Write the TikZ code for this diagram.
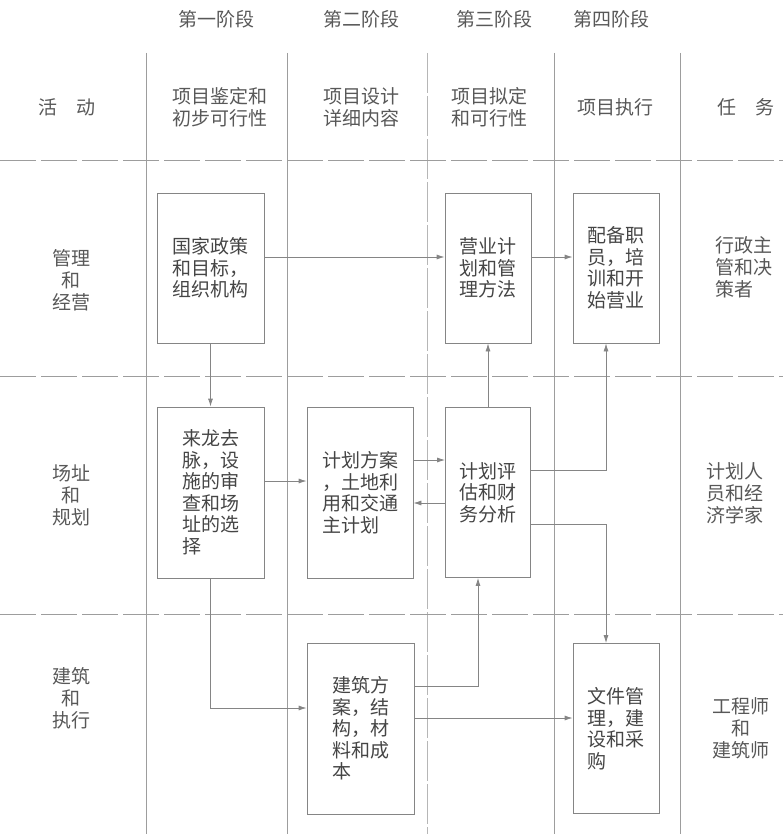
\documentclass[tikz,border=0pt]{standalone}
\usepackage{fontspec}
\setmainfont{Noto Sans CJK SC}
\usetikzlibrary{arrows.meta}

\definecolor{inkgray}{HTML}{454545}
\definecolor{rulegray}{HTML}{858585}

\tikzset{
  stagebox/.style={draw=rulegray, line width=0.8pt, inner sep=0pt, align=left,
    text=inkgray, font=\fontsize{19}{21.5}\selectfont},
  rowlabel/.style={align=center, text=inkgray!90, font=\fontsize{19}{22}\selectfont},
  flow/.style={->, draw=rulegray, line width=0.8pt},
  gridline/.style={draw=rulegray!80, line width=0.7pt},
}

\begin{document}
\begin{tikzpicture}[x=1pt, y=-1pt, >={Latex[length=8pt,width=5pt]}]
  \useasboundingbox (0,0) rectangle (783,834);

  % --- grid ---
  \foreach \gx in {146,287,554,680}
    \draw[gridline] (\gx,53) -- (\gx,834);
  \draw[gridline, draw=rulegray!60, dash pattern=on 40pt off 3pt] (427,53) -- (427,834);
  \foreach \gy in {160,376,614}
    \draw[gridline, dash pattern=on 36pt off 5pt] (0,\gy) -- (783,\gy);

  % --- phases and column heads ---
  \node[rowlabel] (ph1) at (216,19) {第一阶段};
  \node[rowlabel] (ph2) at (361,19) {第二阶段};
  \node[rowlabel] (ph3) at (494,19) {第三阶段};
  \node[rowlabel] (ph4) at (611,19) {第四阶段};
  \node[rowlabel] (act) at (67,107) {活\quad 动};
  \node[rowlabel] (hd1) at (220,107) {项目鉴定和\\初步可行性};
  \node[rowlabel] (hd2) at (361,107) {项目设计\\详细内容};
  \node[rowlabel] (hd3) at (489,107) {项目拟定\\和可行性};
  \node[rowlabel] (hd4) at (615,107) {项目执行};
  \node[rowlabel] (task) at (746,107) {任\quad 务};

  % --- row labels ---
  \node[rowlabel] (mgmt) at (71,280) {管理\\和\\经营};
  \node[rowlabel] (site) at (71,495) {场址\\和\\规划};
  \node[rowlabel] (build) at (71,698) {建筑\\和\\执行};
  \node[rowlabel, align=left] (admin) at (744,267) {行政主\\管和决\\策者};
  \node[rowlabel, align=left] (econ) at (735,493) {计划人\\员和经\\济学家};
  \node[rowlabel] (engr) at (741,728) {工程师\\和\\建筑师};

  % --- boxes ---
  \node[stagebox, minimum width=107pt, minimum height=150pt] (policy) at (210.5,268) {国家政策\\和目标，\\组织机构};
  \node[stagebox, minimum width=86pt, minimum height=150pt] (plan) at (488,268) {营业计\\划和管\\理方法};
  \node[stagebox, minimum width=86pt, minimum height=150pt] (staff) at (616,268) {配备职\\员，培\\训和开\\始营业};
  \node[stagebox, minimum width=107pt, minimum height=171pt] (review) at (210.5,492.5) {来龙去\\脉，设\\施的审\\查和场\\址的选\\择};
  \node[stagebox, minimum width=106pt, minimum height=171pt] (master) at (360,492.5) {计划方案\\，土地利\\用和交通\\主计划};
  \node[stagebox, minimum width=85pt, minimum height=170pt] (eval) at (488,492.5) {计划评\\估和财\\务分析};
  \node[stagebox, minimum width=107pt, minimum height=171pt] (design) at (360.5,728.5) {建筑方\\案，结\\构，材\\料和成\\本};
  \node[stagebox, minimum width=86pt, minimum height=170pt] (docs) at (616,728.5) {文件管\\理，建\\设和采\\购};

  % --- arrows ---
  \draw[flow] ([yshift=11pt]policy.east) -- ([yshift=11pt]plan.west);
  \draw[flow] ([yshift=11pt]plan.east) -- ([yshift=11pt]staff.west);
  \draw[flow] (policy.south) -- (review.north);
  \draw[flow] ([yshift=11.5pt]review.east) -- ([yshift=11.5pt]master.west);
  \draw[flow] ([yshift=32.5pt]master.east) -- ([yshift=32.5pt]eval.west);
  \draw[flow] ([yshift=-10.5pt]eval.west) -- ([yshift=-10.5pt]master.east);
  \draw[flow] (eval.north) -- (plan.south);
  \draw[flow] ([yshift=22.5pt]eval.east) -| ([xshift=-10pt]staff.south);
  \draw[flow] ([yshift=-31.5pt]eval.east) -| ([xshift=-10pt]docs.north);
  \draw[flow] (review.south) |- ([yshift=20.5pt]design.west);
  \draw[flow] ([yshift=42.5pt]design.east) -| ([xshift=-10pt]eval.south);
  \draw[flow] ([yshift=10.5pt]design.east) -- ([yshift=10.5pt]docs.west);
\end{tikzpicture}
\end{document}
